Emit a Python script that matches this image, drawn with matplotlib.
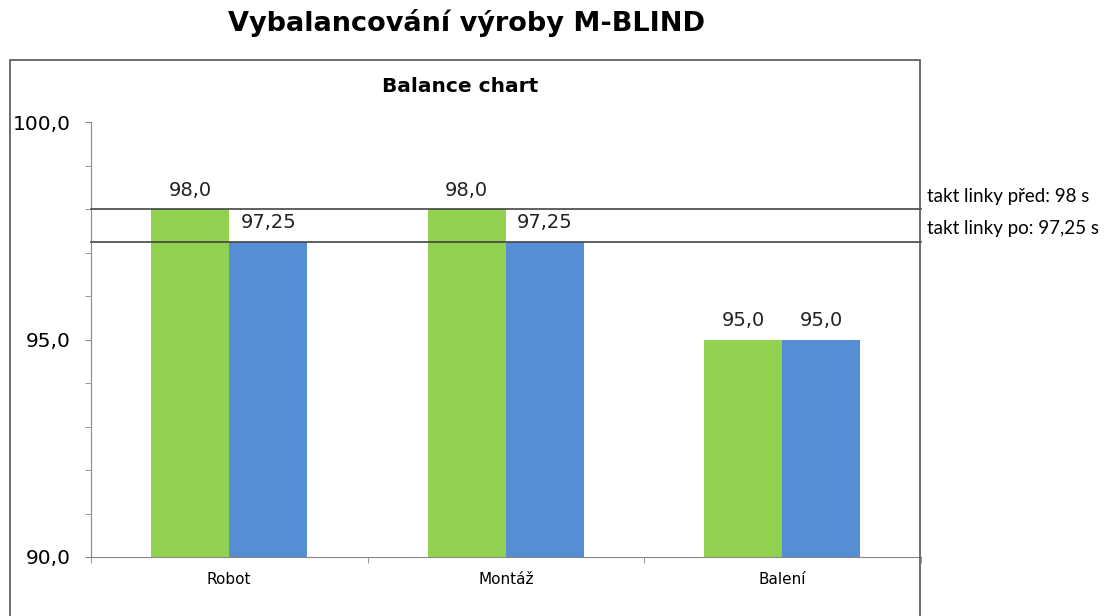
import numpy as np
import matplotlib.pyplot as plt
from matplotlib.patches import Rectangle

categories = ['Robot', 'Montáž', 'Balení']
before = [98.0, 98.0, 95.0]
after = [97.25, 97.25, 95.0]
takt_before = 98.0
takt_after = 97.25
takt_labels = ['takt linky před: 98 s', 'takt linky po: 97,25 s']


def czech(v):
    s = f'{v:.2f}'.rstrip('0')
    if s.endswith('.'):
        s += '0'
    return s.replace('.', ',')


W, H = 1112, 616
fig = plt.figure(figsize=(W / 100, H / 100), dpi=100)

# outer chart frame
fig.patches.append(Rectangle((10 / W, -0.05), 910 / W, 1.05 - 60 / H,
                             transform=fig.transFigure, fill=False,
                             edgecolor='#555555', linewidth=1.2))

fig.text(467 / W, 1 - 31 / H, 'Vybalancování výroby M-BLIND', ha='center', va='baseline',
         fontsize=19.5, fontweight='bold', color='black')
fig.text(460 / W, 1 - 92 / H, 'Balance chart', ha='center', va='baseline',
         fontsize=14.5, fontweight='bold', color='black')

ax = fig.add_axes([91 / W, 59 / H, 829.5 / W, 435 / H])

x = np.arange(len(categories))
bw = 0.283
ax.bar(x - bw / 2, [b - 90 for b in before], bw, bottom=90, color='#92D050', zorder=2)
ax.bar(x + bw / 2, [a - 90 for a in after], bw, bottom=90, color='#558ED5', zorder=2)

for i in range(len(categories)):
    ax.annotate(czech(before[i]), xy=(x[i] - bw / 2, before[i]), xytext=(0, 9.5),
                textcoords='offset points', ha='center', va='baseline',
                fontsize=14, color='#222222', zorder=4)
    ax.annotate(czech(after[i]), xy=(x[i] + bw / 2, after[i]), xytext=(0, 9.5),
                textcoords='offset points', ha='center', va='baseline',
                fontsize=14, color='#222222', zorder=4)

ax.axhline(takt_before, color='#444444', linewidth=1.2, zorder=3, clip_on=False)
ax.axhline(takt_after, color='#444444', linewidth=1.2, zorder=3, clip_on=False)

for val, lab in zip([takt_before, takt_after], takt_labels):
    ax.annotate(lab, xy=(1, val), xycoords=('axes fraction', 'data'),
                xytext=(5, 3), textcoords='offset points', ha='left', va='bottom',
                fontsize=13.5, family='Lato', color='black')

ax.set_xlim(-0.5, 2.5)
ax.set_ylim(90, 100)
ax.set_yticks([90, 95, 100])
ax.set_yticklabels([czech(v) for v in [90.0, 95.0, 100.0]], fontsize=14.5)
ax.set_yticks(np.arange(90, 101, 1), minor=True)
ax.tick_params(axis='y', which='both', length=4.5, color='#888888', pad=10)
ax.set_xticks(x)
ax.set_xticklabels(categories, fontsize=11)
ax.set_xticks([-0.5, 0.5, 1.5, 2.5], minor=True)
ax.tick_params(axis='x', which='major', length=0, pad=11)
ax.tick_params(axis='x', which='minor', length=4.5, color='#888888')

for s in ['top', 'right']:
    ax.spines[s].set_visible(False)
ax.spines['left'].set_color('#888888')
ax.spines['bottom'].set_color('#888888')

fig.savefig('out.png', dpi=100)
